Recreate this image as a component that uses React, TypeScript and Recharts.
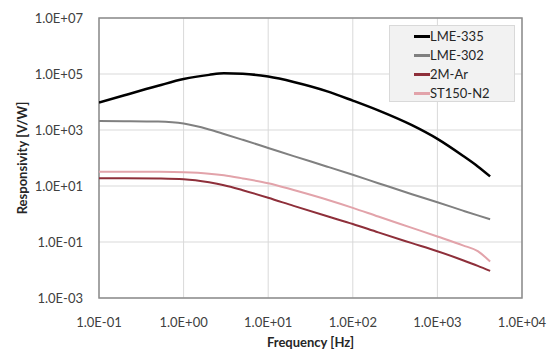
import React from "react";
import {
  LineChart,
  Line,
  XAxis,
  YAxis,
  CartesianGrid,
  Legend,
  ReferenceArea,
} from "recharts";

// frequency points in Hz, shared by all four curves
const freq = [0.1, 0.2, 0.5, 1, 2, 3, 5, 10, 20, 50, 100, 200, 500, 1000, 2000, 3000, 4200];

// responsivity in V/W
const lme335 = [9.5e3, 1.74e4, 3.8e4, 6.6e4, 9.3e4, 1.06e5, 1.02e5, 8.1e4, 5.2e4, 2.4e4, 1.12e4, 5.0e3, 1.48e3, 480, 120, 50, 22];
const lme302 = [2090, 2065, 1995, 1700, 1047, 724, 447, 229, 117, 49, 25.1, 12.6, 5.1, 2.63, 1.32, 0.89, 0.65];
const m2Ar = [19.1, 19.1, 18.6, 17.4, 13.5, 10.7, 7.1, 3.8, 1.95, 0.83, 0.44, 0.22, 0.091, 0.047, 0.0224, 0.0141, 0.0093];
const st150 = [32.4, 32.4, 32, 30.9, 27.5, 24, 18.6, 12.6, 7.2, 3.24, 1.66, 0.81, 0.32, 0.158, 0.076, 0.047, 0.02];

const xTicks = [0.1, 1, 10, 100, 1000, 10000];
const yTicks = [1e-3, 1e-1, 1e1, 1e3, 1e5, 1e7];

const seriesNames = ["LME-335", "LME-302", "2M-Ar", "ST150-N2"];
const seriesColors = ["#000000", "#808080", "#8e2f3a", "#e2a3aa"];
const seriesWidths = [2.5, 2, 2, 2];
const seriesValues = [lme335, lme302, m2Ar, st150];

const data = freq.map((f, i) => {
  const row: Record<string, number> = { f };
  seriesNames.forEach((name, s) => {
    row[name] = seriesValues[s][i];
  });
  return row;
});

const FONT = "Lato, 'Open Sans', sans-serif";

const sci = (v: number) => {
  const e = Math.round(Math.log10(v));
  return `1.0E${e < 0 ? "-" : "+"}${String(Math.abs(e)).padStart(2, "0")}`;
};

const LegendBox = (props: any) => {
  const items = [...(props.payload || [])].sort(
    (a: any, b: any) => seriesNames.indexOf(a.value) - seriesNames.indexOf(b.value)
  );
  return (
    <div
      style={{
        background: "#f2f2f2",
        border: "1px solid #d9d9d9",
        width: 126,
        height: 77,
        boxSizing: "border-box",
        paddingTop: 1,
        fontFamily: FONT,
        fontSize: 13,
        color: "#262626",
      }}
    >
      {items.map((it: any) => (
        <div key={it.value} style={{ display: "flex", alignItems: "center", height: 19 }}>
          <span
            style={{
              display: "inline-block",
              marginLeft: 24,
              width: 16,
              height: 2.5,
              background: it.color,
            }}
          />
          <span style={{ lineHeight: "19px" }}>{it.value}</span>
        </div>
      ))}
    </div>
  );
};

const YTitle = (props: any) => {
  const vb = props.viewBox;
  const x = vb.x + 22;
  const y = vb.y + vb.height / 2;
  return (
    <text
      x={x}
      y={y}
      transform={`rotate(-90, ${x}, ${y})`}
      textAnchor="middle"
      dominantBaseline="central"
      fontFamily={FONT}
      fontSize={13}
      fontWeight="bold"
      fill="#262626"
    >
      Responsivity [V/W]
    </text>
  );
};

const App: React.FC = () => (
  <div style={{ position: "absolute", left: 0, top: 0 }}>
    <LineChart
      width={551}
      height={352}
      data={data}
      margin={{ top: 18, right: 29, left: 0, bottom: 0 }}
      style={{ background: "#ffffff" }}
    >
      <CartesianGrid stroke="#d9d9d9" strokeWidth={1} />
      <XAxis
        dataKey="f"
        type="number"
        scale="log"
        domain={[0.1, 10000]}
        ticks={xTicks}
        allowDataOverflow
        tickFormatter={sci}
        axisLine={false}
        tickLine={false}
        tickSize={10}
        tickMargin={10}
        height={54}
        interval={0}
        tick={{ fontFamily: FONT, fontSize: 13, fill: "#404040" }}
        label={{
          value: "Frequency [Hz]",
          position: "insideBottom",
          offset: 5,
          fontFamily: FONT,
          fontSize: 13,
          fontWeight: "bold",
          fill: "#262626",
        }}
      />
      <YAxis
        type="number"
        scale="log"
        domain={[1e-3, 1e7]}
        ticks={yTicks}
        allowDataOverflow
        tickFormatter={sci}
        axisLine={false}
        tickLine={false}
        tickSize={8}
        tickMargin={8}
        width={99}
        interval={0}
        tick={{ fontFamily: FONT, fontSize: 13, fill: "#404040" }}
        label={<YTitle />}
      />
      <ReferenceArea
        x1={0.1}
        x2={10000}
        y1={1e-3}
        y2={1e7}
        fill="none"
        fillOpacity={0}
        stroke="#8c8c8c"
        strokeWidth={1.5}
      />
      {seriesNames.map((name, s) => (
        <Line
          key={name}
          dataKey={name}
          name={name}
          type="monotone"
          stroke={seriesColors[s]}
          strokeWidth={seriesWidths[s]}
          dot={false}
          activeDot={false}
          isAnimationActive={false}
        />
      ))}
      <Legend
        layout="horizontal"
        align="center"
        verticalAlign="middle"
        width={126}
        height={77}
        wrapperStyle={{ left: 389, top: 25, width: 126, height: 77 }}
        content={<LegendBox />}
      />
    </LineChart>
  </div>
);

export default App;
